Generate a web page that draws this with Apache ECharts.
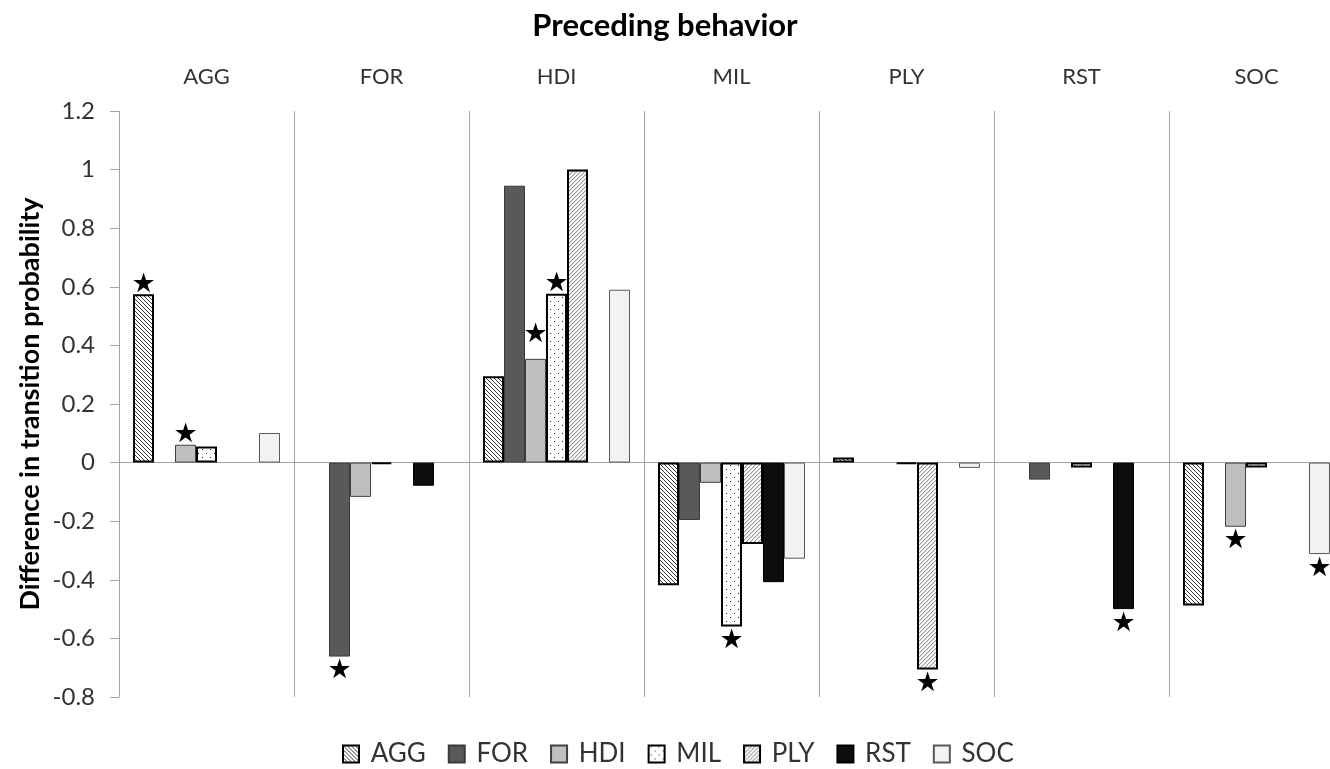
<!DOCTYPE html>
<html>
<head>
<meta charset="utf-8">
<script src="https://cdn.jsdelivr.net/npm/echarts@6/dist/echarts.min.js"></script>
<style>
  html, body { margin: 0; padding: 0; background: #ffffff; }
  #chart { width: 1330px; height: 769px; }
</style>
</head>
<body>
<div id="chart"></div>
<script>
// Preceding behaviour (x categories) and following behaviour (series)
const precedingBehaviors = ['AGG', 'FOR', 'HDI', 'MIL', 'PLY', 'RST', 'SOC'];
const followingBehaviors = ['AGG', 'FOR', 'HDI', 'MIL', 'PLY', 'RST', 'SOC'];

// Difference in transition probability, one value per preceding behaviour
// (null = no bar drawn)
const diffAGG = [0.575, null, 0.295, -0.419, 0.017, null, -0.488];
const diffFOR = [null, -0.662, 0.945, -0.196, null, -0.058, null];
const diffHDI = [0.061, -0.117, 0.354, -0.069, null, null, -0.219];
const diffMIL = [0.055, -0.005, 0.576, -0.559, -0.004, -0.017, -0.017];
const diffPLY = [null, null, 1.0, -0.278, -0.706, null, null];
const diffRST = [null, -0.079, null, -0.408, null, -0.5, null];
const diffSOC = [0.101, null, 0.59, -0.328, -0.018, null, -0.312];

// Significant differences (marked with a star)
const sigAGG = [1, 0, 0, 0, 0, 0, 0];
const sigFOR = [0, 1, 0, 0, 0, 0, 0];
const sigHDI = [1, 0, 1, 0, 0, 0, 1];
const sigMIL = [0, 0, 1, 1, 0, 0, 0];
const sigPLY = [0, 0, 0, 0, 1, 0, 0];
const sigRST = [0, 0, 0, 0, 0, 1, 0];
const sigSOC = [0, 0, 0, 0, 0, 0, 1];

const yTicks = { min: -0.8, max: 1.2, interval: 0.2 };

const seriesValues = [diffAGG, diffFOR, diffHDI, diffMIL, diffPLY, diffRST, diffSOC];
const seriesSig = [sigAGG, sigFOR, sigHDI, sigMIL, sigPLY, sigRST, sigSOC];

// ---- fill patterns ----
function makeTile(size, bg, paint) {
  const c = document.createElement('canvas');
  c.width = size; c.height = size;
  const ctx = c.getContext('2d');
  ctx.fillStyle = bg;
  ctx.fillRect(0, 0, size, size);
  paint(ctx, size);
  return c;
}
// "\" diagonal lines
const hatchDown = makeTile(4, '#ffffff', (ctx, n) => {
  ctx.fillStyle = '#3a3a3a';
  for (let i = 0; i < n; i++) ctx.fillRect(i, i, 1, 1);
});
// "/" diagonal lines, lighter
const hatchUp = makeTile(4, '#ffffff', (ctx, n) => {
  ctx.fillStyle = '#9a9a9a';
  for (let i = 0; i < n; i++) ctx.fillRect(i, n - 1 - i, 1, 1);
  ctx.fillStyle = '#d4d4d4';
  for (let i = 0; i < n; i++) ctx.fillRect((i + 1) % n, n - 1 - i, 1, 1);
});
// sparse dots
const dots = makeTile(8, '#ffffff', (ctx) => {
  ctx.fillStyle = '#222222';
  ctx.fillRect(2, 1, 1, 1);
  ctx.fillRect(6, 5, 1, 1);
});

const barStyles = [
  { color: { image: hatchDown, repeat: 'repeat' }, borderColor: '#000000', borderWidth: 2 },
  { color: '#595959', borderColor: '#3a3a3a', borderWidth: 1 },
  { color: '#bfbfbf', borderColor: '#404040', borderWidth: 1 },
  { color: { image: dots, repeat: 'repeat' }, borderColor: '#000000', borderWidth: 2 },
  { color: { image: hatchUp, repeat: 'repeat' }, borderColor: '#000000', borderWidth: 2 },
  { color: '#0d0d0d', borderColor: '#000000', borderWidth: 1 },
  { color: '#f2f2f2', borderColor: '#595959', borderWidth: 1 }
];

const FONT = 'Lato';
const TEXT_COLOR = '#333333';
const LINE_COLOR = '#a6a6a6';

// The HDI star over the HDI column is lifted so it clears the neighbouring star
const starLift = { 'HDI|HDI': 14 };

const series = followingBehaviors.map((name, s) => ({
  name: name,
  type: 'bar',
  barGap: '0%',
  barCategoryGap: '16%',
  itemStyle: barStyles[s],
  label: {
    show: false,
    formatter: '\u2605',
    fontFamily: 'DejaVu Sans',
    fontSize: 27,
    color: '#000000',
    distance: 0
  },
  emphasis: { disabled: true },
  data: seriesValues[s].map((v, c) => {
    if (v === null) return null;
    const item = { value: v };
    if (seriesSig[s][c]) {
      const up = v >= 0;
      const lift = starLift[precedingBehaviors[c] + '|' + name] || 0;
      item.label = {
        show: true,
        position: up ? 'top' : 'bottom',
        distance: up ? -4 : 1,
        offset: [0, -lift]
      };
    }
    return item;
  })
}));

const chart = echarts.init(document.getElementById('chart'), null, { renderer: 'canvas' });
chart.setOption({
  animation: false,
  backgroundColor: '#ffffff',
  title: {
    text: 'Preceding behavior',
    left: 'center',
    top: 5,
    textStyle: { fontFamily: FONT, fontWeight: 'bold', fontSize: 31, color: '#000000' }
  },
  legend: {
    data: followingBehaviors,
    left: 337,
    top: 736,
    icon: 'rect',
    itemWidth: 16,
    itemHeight: 17,
    itemGap: 22,
    selectedMode: false,
    formatter: ' {name}',
    textStyle: { fontFamily: FONT, fontSize: 26, color: TEXT_COLOR }
  },
  grid: { left: 119, width: 1225, top: 111, bottom: 72, outerBoundsMode: 'none' },
  xAxis: [
    {
      type: 'category',
      data: precedingBehaviors,
      position: 'top',
      axisLine: { show: false, onZero: false },
      axisTick: { show: false },
      axisLabel: { fontFamily: FONT, fontSize: 22, color: TEXT_COLOR, margin: 23 },
      splitLine: { show: true, lineStyle: { color: LINE_COLOR, width: 1 } }
    },
    {
      type: 'category',
      data: precedingBehaviors,
      position: 'bottom',
      axisLine: { show: true, onZero: true, lineStyle: { color: LINE_COLOR, width: 1 } },
      axisTick: { show: false },
      axisLabel: { show: false },
      splitLine: { show: false }
    }
  ],
  yAxis: {
    type: 'value',
    min: yTicks.min,
    max: yTicks.max,
    interval: yTicks.interval,
    axisLine: { show: true, lineStyle: { color: LINE_COLOR, width: 1 } },
    axisTick: { show: true, length: 9, lineStyle: { color: LINE_COLOR } },
    axisLabel: { fontFamily: FONT, fontSize: 24, color: TEXT_COLOR, margin: 24 },
    splitLine: { show: false }
  },
  graphic: [
    {
      type: 'text',
      x: 30,
      y: 404,
      rotation: Math.PI / 2,
      style: {
        text: 'Difference in transition probability',
        fontFamily: FONT,
        fontWeight: 'bold',
        fontSize: 27,
        fill: '#000000',
        align: 'center',
        verticalAlign: 'middle'
      }
    }
  ],
  series: series
});
</script>
</body>
</html>
